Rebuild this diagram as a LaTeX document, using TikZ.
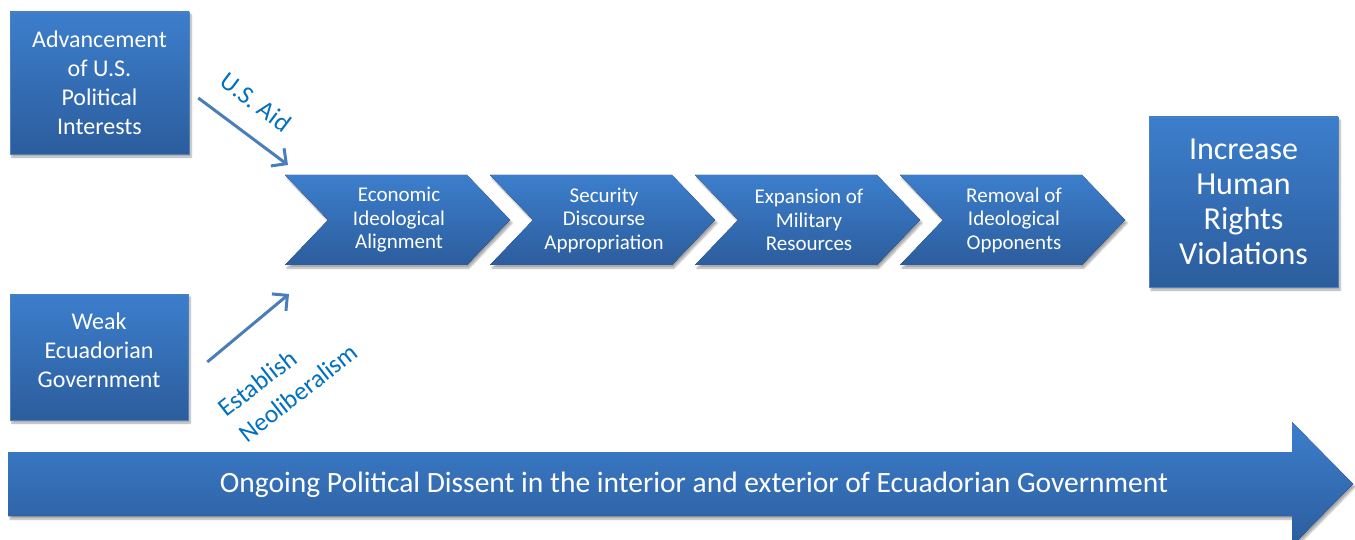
\documentclass[tikz,border=0pt]{standalone}
\usepackage{fontspec}
\setmainfont{Carlito}
\usetikzlibrary{arrows.meta,shadows.blur}
\definecolor{boxTop}{RGB}{60,126,204}
\definecolor{boxBot}{RGB}{44,93,157}
\definecolor{boxEdge}{RGB}{79,129,189}
\definecolor{linkCol}{RGB}{74,126,187}
\definecolor{labelCol}{RGB}{0,112,192}
\tikzset{
  shade box/.style={top color=boxTop, bottom color=boxBot,
    blur shadow={shadow blur steps=6, shadow xshift=2pt, shadow yshift=-3pt, shadow opacity=35}},
  bluebox/.style={shade box, draw=boxEdge, line width=0.6pt, text=white,
    align=center, inner sep=0pt},
  boxtext/.style={text=white, align=center, inner sep=0pt},
  chev/.style={shade box},
  chevtext/.style={text=white, align=center, font=\fontsize{21}{23.5}\selectfont},
  link/.style={draw=linkCol, line width=3pt, -{Straight Barb[length=11pt,width=22pt,line width=3pt]}},
  linklabel/.style={text=labelCol, font=\fontsize{25.5}{33}\selectfont},
}
\begin{document}
\begin{tikzpicture}[x=1pt,y=-1pt]
\useasboundingbox (0,0) rectangle (1355,540);
\clip (0,0) rectangle (1355,540);

% source boxes
\node[bluebox, minimum width=179pt, minimum height=142pt, font=\fontsize{24}{29}\selectfont]
  (usint) at (99.5,83) {Advancement\\of U.S.\\Political\\Interests};
\node[bluebox, minimum width=178pt, minimum height=126pt] (weak) at (99,357) {};
\node[boxtext, font=\fontsize{24}{29}\selectfont] (weakText) at ([yshift=7pt]weak.center)
  {Weak\\Ecuadorian\\Government};

% outcome box
\node[bluebox, minimum width=189pt, minimum height=170pt, font=\fontsize{32}{35}\selectfont]
  (hr) at (1243.5,202) {Increase\\Human\\Rights\\Violations};

% process chevrons
\foreach \x/\n/\t in {285/econ/{Economic\\Ideological\\Alignment},
                      490/secu/{Security\\Discourse\\Appropriation},
                      695/mili/{Expansion of\\Military\\Resources},
                      900/remo/{Removal of\\Ideological\\Opponents}} {
  \fill[chev] (\x,175) -- ++(182,0) -- ++(43,45) -- ++(-43,45) -- ++(-182,0) -- ++(43,-45) -- cycle;
  \node[chevtext] (\n) at (\x+114,220) {\t};
}
\coordinate (entryTop) at (288,165);
\coordinate (entryBot) at (289,294);

% influences feeding the process
\draw[link] (usint.east |- 0,98) ++(9,0) coordinate (aidStart) -- (entryTop);
\draw[link] (weak.east |- 0,362) ++(19,0) coordinate (neoStart) -- (entryBot);
\node[linklabel, rotate=-37] (aid) at (256,102) {U.S. Aid};
\node[linklabel, rotate=38, align=left] (neo) at (288,380) {Establish\\Neoliberalism};

% ongoing dissent arrow
\fill[shade box] (8,452) -- (1292,452) -- (1292,422) -- (1353,484) -- (1292,546) -- (1292,516) -- (8,516) -- cycle;
\node[text=white, font=\fontsize{29.5}{34}\selectfont] (dissent) at (694,485)
  {Ongoing Political Dissent in the interior and exterior of Ecuadorian Government};
\end{tikzpicture}
\end{document}
